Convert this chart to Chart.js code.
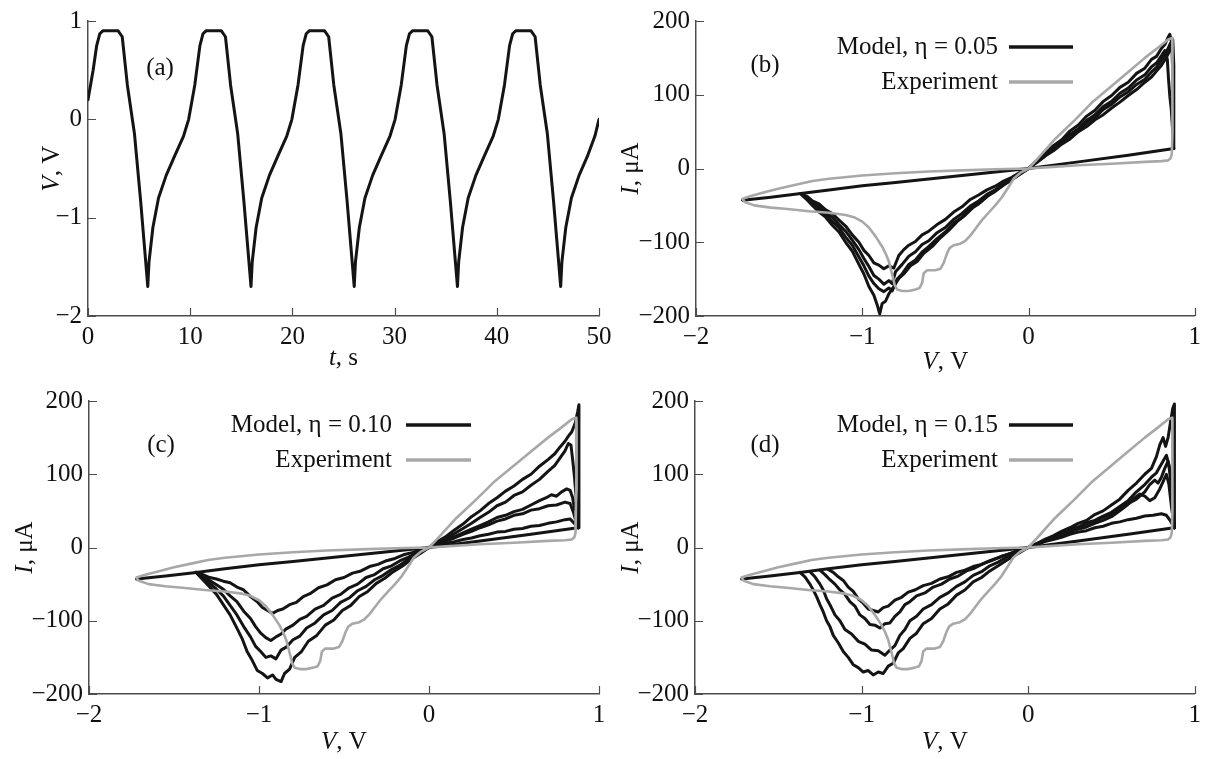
<!DOCTYPE html>
<html>
<head>
<meta charset="utf-8">
<title>V(t) and I–V loops</title>
<script src="https://cdn.jsdelivr.net/npm/chart.js"></script>
<style>
  body { margin: 0; background: #fff; width: 1207px; height: 759px; position: relative; overflow: hidden; }
  canvas { position: absolute; }
</style>
</head>
<body>
<canvas id="chartA" width="625" height="380" style="left:0;top:0"></canvas>
<canvas id="chartB" width="604" height="380" style="left:603px;top:0"></canvas>
<canvas id="chartC" width="625" height="379" style="left:0;top:380px"></canvas>
<canvas id="chartD" width="604" height="379" style="left:603px;top:380px"></canvas>

<script>
// ---- panel (a): V(t) ----
const tA = [0, 0.5, 0.85, 1.15, 1.45, 2.95, 3.35, 3.85, 4.55, 5.15, 5.85,
  5.97, 6.35, 6.9, 7.65, 8.45, 9.35, 9.85, 10.45, 10.95, 11.25, 11.55, 13.05, 13.45, 13.95, 14.65, 15.25, 15.95,
  16.07, 16.45, 17.0, 17.75, 18.55, 19.45, 19.95, 20.55, 21.05, 21.35, 21.65, 23.15, 23.55, 24.05, 24.75, 25.35, 26.05,
  26.17, 26.55, 27.1, 27.85, 28.65, 29.55, 30.05, 30.65, 31.15, 31.45, 31.75, 33.25, 33.65, 34.15, 34.85, 35.45, 36.15,
  36.27, 36.65, 37.2, 37.95, 38.75, 39.65, 40.15, 40.75, 41.25, 41.55, 41.85, 43.35, 43.75, 44.25, 44.95, 45.55, 46.25,
  46.37, 46.75, 47.3, 48.05, 48.85, 49.6, 50.0];
const vA = [0.2, 0.5, 0.75, 0.87, 0.9, 0.9, 0.84, 0.35, -0.15, -0.83, -1.7,
  -1.45, -1.1, -0.8, -0.57, -0.38, -0.17, 0.0, 0.35, 0.75, 0.87, 0.9, 0.9, 0.84, 0.35, -0.15, -0.83, -1.7,
  -1.45, -1.1, -0.8, -0.57, -0.38, -0.17, 0.0, 0.35, 0.75, 0.87, 0.9, 0.9, 0.84, 0.35, -0.15, -0.83, -1.7,
  -1.45, -1.1, -0.8, -0.57, -0.38, -0.17, 0.0, 0.35, 0.75, 0.87, 0.9, 0.9, 0.84, 0.35, -0.15, -0.83, -1.7,
  -1.45, -1.1, -0.8, -0.57, -0.38, -0.17, 0.0, 0.35, 0.75, 0.87, 0.9, 0.9, 0.84, 0.35, -0.15, -0.83, -1.7,
  -1.45, -1.1, -0.8, -0.57, -0.38, -0.17, 0.0];

// ---- I-V loops: [V, I] pairs, V in volts, I in µA ----
const experiment = [[0,0],[0.05,12],[0.16,40],[0.28,66],[0.38,89],[0.5,112],[0.6,131],[0.7,150],[0.78,164],[0.84,175],[0.865,177],
  [0.868,150],[0.866,100],[0.864,50],[0.862,20],[0.855,14],[0.84,11],[0.8,10],[0.7,9],[0.5,6.5],[0.3,4.5],[0.1,1.5],[0,0],
  [-0.2,-1],[-0.4,-2.5],[-0.6,-4],[-0.8,-6.5],[-1.0,-9.5],[-1.2,-14],[-1.3,-17],[-1.4,-22],[-1.5,-27],[-1.6,-33],[-1.68,-38],[-1.72,-41],
  [-1.71,-45],[-1.65,-50],[-1.55,-53],[-1.45,-55],[-1.32,-58],[-1.2,-60],[-1.1,-63],[-1.05,-66],[-1.0,-72],[-0.96,-80],[-0.92,-92],
  [-0.88,-106],[-0.86,-115],[-0.84,-126],[-0.83,-135],[-0.815,-148],[-0.805,-158],[-0.79,-164],[-0.76,-166],[-0.72,-166],[-0.68,-164],
  [-0.655,-162],[-0.64,-155],[-0.63,-142],[-0.61,-138],[-0.56,-138],[-0.53,-136],[-0.51,-128],[-0.49,-115],[-0.475,-108],[-0.45,-104],
  [-0.41,-102],[-0.38,-98],[-0.35,-91],[-0.32,-82],[-0.28,-70],[-0.24,-60],[-0.2,-50],[-0.16,-39],[-0.12,-25],[-0.09,-14],[-0.05,-6],[0,0]];

const offBranch = [[0.875,27],[0.6,18],[0.3,9],[0,0],[-0.4,-9.5],[-0.8,-19],[-1.0,-23.5],[-1.2,-29],[-1.37,-34],[-1.55,-39],[-1.72,-43]];

// eta = 0.05
const bPos1 = [[0,0],[0.05,8],[0.1,17],[0.15,24],[0.2,33],[0.25,40],[0.3,50],[0.35,57],[0.4,66],[0.45,73],[0.5,82],[0.55,90],[0.6,99],[0.65,107],[0.7,117],[0.74,124],[0.77,132],[0.8,140],[0.83,151],[0.85,160],[0.865,166],[0.872,120],[0.872,27]];
const bPos2 = [[0,0],[0.05,10],[0.1,18],[0.15,28],[0.2,36],[0.25,46],[0.3,54],[0.35,65],[0.4,73],[0.45,84],[0.5,91],[0.55,102],[0.6,109],[0.65,120],[0.7,127],[0.74,138],[0.77,143],[0.8,153],[0.82,160],[0.835,148],[0.842,122],[0.85,98],[0.858,82],[0.866,55],[0.872,27]];
const bPos3 = [[0,0],[0.05,11],[0.1,20],[0.15,31],[0.2,39],[0.25,51],[0.3,59],[0.35,71],[0.4,79],[0.45,91],[0.5,99],[0.55,110],[0.6,117],[0.65,129],[0.7,136],[0.74,148],[0.77,152],[0.8,163],[0.82,168],[0.84,178],[0.85,182],[0.862,170],[0.87,110],[0.872,27]];
const bPos4 = [[0,0],[0.05,9],[0.1,17],[0.15,27],[0.2,34],[0.25,45],[0.3,51],[0.35,62],[0.4,69],[0.45,80],[0.5,87],[0.55,97],[0.6,104],[0.65,114],[0.7,121],[0.74,131],[0.77,137],[0.8,147],[0.83,158],[0.85,168],[0.868,175],[0.874,140],[0.874,27]];
const bNeg1 = [[-1.37,-34],[-1.33,-38],[-1.3,-44],[-1.26,-48],[-1.22,-56],[-1.18,-61],[-1.14,-70],[-1.1,-78],[-1.06,-90],[-1.02,-100],[-0.99,-111],[-0.96,-118],[-0.93,-128],[-0.9,-131],[-0.87,-136],[-0.84,-132],[-0.81,-135],[-0.78,-118],[-0.75,-110],[-0.72,-104],[-0.68,-99],[-0.64,-90],[-0.6,-85],[-0.55,-76],[-0.5,-69],[-0.45,-59],[-0.4,-52],[-0.35,-42],[-0.3,-36],[-0.25,-29],[-0.2,-24],[-0.15,-17],[-0.1,-12],[-0.05,-5],[0,0]];
const bNeg2 = [[-1.37,-34],[-1.33,-40],[-1.3,-46],[-1.26,-52],[-1.22,-60],[-1.18,-66],[-1.14,-76],[-1.1,-85],[-1.06,-97],[-1.02,-110],[-0.99,-122],[-0.96,-133],[-0.93,-145],[-0.9,-150],[-0.87,-157],[-0.84,-152],[-0.82,-156],[-0.8,-140],[-0.76,-130],[-0.72,-119],[-0.68,-113],[-0.64,-103],[-0.6,-98],[-0.55,-87],[-0.5,-80],[-0.45,-69],[-0.4,-61],[-0.35,-51],[-0.3,-44],[-0.25,-35],[-0.2,-29],[-0.15,-20],[-0.1,-14],[-0.05,-6],[0,0]];
const bNeg3 = [[-1.37,-34],[-1.33,-42],[-1.3,-48],[-1.26,-56],[-1.22,-62],[-1.18,-72],[-1.14,-80],[-1.1,-93],[-1.06,-104],[-1.02,-120],[-0.99,-132],[-0.96,-146],[-0.93,-156],[-0.9,-163],[-0.87,-167],[-0.84,-162],[-0.82,-166],[-0.79,-150],[-0.76,-143],[-0.72,-130],[-0.68,-124],[-0.64,-113],[-0.6,-106],[-0.55,-95],[-0.5,-86],[-0.45,-74],[-0.4,-66],[-0.35,-55],[-0.3,-48],[-0.25,-38],[-0.2,-31],[-0.15,-22],[-0.1,-15],[-0.05,-7],[0,0]];
const bNeg4 = [[-1.37,-34],[-1.33,-43],[-1.3,-50],[-1.26,-59],[-1.22,-66],[-1.18,-77],[-1.14,-86],[-1.1,-100],[-1.06,-112],[-1.02,-130],[-0.99,-143],[-0.96,-160],[-0.93,-172],[-0.91,-185],[-0.895,-197],[-0.88,-183],[-0.86,-180],[-0.84,-170],[-0.81,-160],[-0.78,-149],[-0.75,-143],[-0.71,-132],[-0.67,-126],[-0.63,-115],[-0.58,-106],[-0.53,-94],[-0.48,-84],[-0.43,-72],[-0.38,-63],[-0.33,-52],[-0.28,-44],[-0.23,-34],[-0.18,-27],[-0.12,-18],[-0.06,-9],[0,0]];

// eta = 0.10
const cPos1 = [[0,0],[0.05,8],[0.1,15],[0.15,24],[0.2,32],[0.25,42],[0.3,50],[0.35,60],[0.4,68],[0.45,77],[0.5,84],[0.55,93],[0.6,100],[0.65,111],[0.7,120],[0.74,128],[0.77,137],[0.8,145],[0.82,152],[0.84,158],[0.86,170],[0.875,186],[0.882,195],[0.882,27]];
const cPos2 = [[0,0],[0.05,6],[0.1,12],[0.15,19],[0.2,26],[0.25,33],[0.3,41],[0.35,48],[0.4,57],[0.45,62],[0.5,71],[0.55,76],[0.6,85],[0.65,93],[0.7,104],[0.74,112],[0.77,122],[0.8,132],[0.82,142],[0.835,140],[0.845,120],[0.855,98],[0.865,70],[0.878,27]];
const cPos3 = [[0,0],[0.05,5],[0.1,10],[0.15,15],[0.2,20],[0.25,25],[0.3,30],[0.35,35],[0.4,41],[0.45,44],[0.5,49],[0.55,52],[0.6,58],[0.65,64],[0.69,68],[0.72,72],[0.75,70],[0.78,76],[0.81,80],[0.83,78],[0.845,68],[0.855,54],[0.865,42],[0.878,27]];
const cPos4 = [[0,0],[0.05,4],[0.1,9],[0.15,13],[0.2,18],[0.25,22],[0.3,27],[0.35,31],[0.4,36],[0.45,39],[0.5,44],[0.55,46],[0.6,51],[0.65,53],[0.7,57],[0.75,58],[0.8,62],[0.83,60],[0.85,48],[0.865,35],[0.878,27]];
const cPos5 = [[0,0],[0.05,3],[0.1,6],[0.15,8],[0.2,11],[0.25,13],[0.3,16],[0.35,18],[0.4,21],[0.45,22],[0.5,25],[0.55,26],[0.6,29],[0.65,30],[0.7,33],[0.75,35],[0.8,38],[0.83,39],[0.85,34],[0.878,27]];
const cNeg1 = [[-1.37,-34],[-1.33,-37],[-1.29,-41],[-1.25,-43],[-1.21,-46],[-1.17,-48],[-1.13,-54],[-1.09,-58],[-1.05,-67],[-1.01,-74],[-0.98,-82],[-0.95,-86],[-0.92,-90],[-0.89,-86],[-0.86,-84],[-0.82,-78],[-0.78,-75],[-0.74,-67],[-0.7,-63],[-0.65,-55],[-0.6,-51],[-0.55,-44],[-0.5,-41],[-0.45,-35],[-0.4,-32],[-0.35,-26],[-0.3,-23],[-0.25,-18],[-0.2,-15],[-0.15,-10],[-0.1,-7],[-0.05,-3],[0,0]];
const cNeg2 = [[-1.37,-34],[-1.33,-40],[-1.29,-45],[-1.25,-51],[-1.21,-57],[-1.17,-66],[-1.13,-74],[-1.09,-87],[-1.05,-97],[-1.02,-108],[-0.99,-117],[-0.96,-123],[-0.93,-127],[-0.9,-122],[-0.87,-118],[-0.84,-111],[-0.8,-106],[-0.76,-98],[-0.72,-94],[-0.67,-84],[-0.62,-79],[-0.57,-69],[-0.52,-64],[-0.47,-55],[-0.42,-50],[-0.37,-41],[-0.32,-37],[-0.27,-29],[-0.22,-25],[-0.17,-18],[-0.12,-13],[-0.06,-6],[0,0]];
const cNeg3 = [[-1.37,-34],[-1.33,-42],[-1.29,-49],[-1.25,-57],[-1.21,-66],[-1.17,-79],[-1.13,-92],[-1.09,-108],[-1.05,-122],[-1.02,-135],[-0.99,-142],[-0.96,-150],[-0.93,-148],[-0.9,-152],[-0.87,-140],[-0.84,-136],[-0.8,-126],[-0.76,-121],[-0.72,-110],[-0.67,-103],[-0.62,-92],[-0.57,-86],[-0.52,-75],[-0.47,-69],[-0.42,-59],[-0.37,-53],[-0.32,-44],[-0.27,-38],[-0.22,-30],[-0.17,-24],[-0.12,-16],[-0.06,-8],[0,0]];
const cNeg4 = [[-1.37,-34],[-1.33,-44],[-1.29,-54],[-1.25,-64],[-1.21,-78],[-1.17,-92],[-1.13,-110],[-1.1,-124],[-1.07,-142],[-1.04,-154],[-1.01,-168],[-0.98,-172],[-0.95,-178],[-0.92,-174],[-0.9,-180],[-0.87,-183],[-0.85,-172],[-0.82,-166],[-0.79,-150],[-0.75,-142],[-0.71,-128],[-0.66,-120],[-0.61,-106],[-0.56,-99],[-0.51,-86],[-0.46,-79],[-0.41,-67],[-0.36,-60],[-0.31,-49],[-0.26,-42],[-0.21,-33],[-0.16,-26],[-0.11,-17],[-0.05,-8],[0,0]];

// eta = 0.15
const dPos1 = [[0,0],[0.05,5],[0.1,11],[0.15,16],[0.2,22],[0.25,27],[0.3,33],[0.35,37],[0.4,45],[0.45,50],[0.5,58],[0.55,66],[0.6,78],[0.65,88],[0.7,100],[0.74,108],[0.77,124],[0.79,140],[0.81,150],[0.825,138],[0.84,150],[0.855,172],[0.868,190],[0.878,196],[0.878,27]];
const dPos2 = [[0,0],[0.05,5],[0.1,10],[0.15,15],[0.2,19],[0.25,25],[0.3,28],[0.35,34],[0.4,37],[0.45,43],[0.5,48],[0.55,56],[0.6,64],[0.65,76],[0.7,86],[0.74,96],[0.77,102],[0.8,114],[0.83,126],[0.845,112],[0.855,92],[0.865,62],[0.878,27]];
const dPos3 = [[0,0],[0.05,4],[0.1,9],[0.15,13],[0.2,17],[0.25,21],[0.3,25],[0.35,28],[0.4,33],[0.45,37],[0.5,42],[0.55,50],[0.6,59],[0.64,68],[0.67,73],[0.7,70],[0.73,64],[0.76,68],[0.79,80],[0.81,90],[0.83,100],[0.845,86],[0.86,56],[0.878,27]];
const dPos4 = [[0,0],[0.05,4],[0.1,8],[0.15,11],[0.2,14],[0.25,18],[0.3,21],[0.35,23],[0.4,27],[0.45,29],[0.5,33],[0.55,35],[0.6,38],[0.65,40],[0.7,43],[0.75,44],[0.8,46],[0.83,44],[0.855,36],[0.878,27]];
const dPos5 = [[0,0],[0.05,5],[0.1,9],[0.15,14],[0.2,18],[0.25,23],[0.3,27],[0.35,32],[0.4,36],[0.45,41],[0.5,46],[0.55,53],[0.6,60],[0.65,66],[0.7,76],[0.73,86],[0.76,92],[0.78,88],[0.8,96],[0.82,108],[0.84,118],[0.855,100],[0.868,60],[0.878,27]];
const dNeg1 = [[-1.37,-34],[-1.34,-40],[-1.31,-50],[-1.29,-58],[-1.27,-67],[-1.25,-78],[-1.23,-88],[-1.21,-100],[-1.19,-108],[-1.17,-120],[-1.14,-130],[-1.11,-142],[-1.08,-150],[-1.05,-160],[-1.02,-164],[-0.99,-170],[-0.96,-168],[-0.93,-174],[-0.9,-170],[-0.87,-172],[-0.84,-162],[-0.81,-158],[-0.78,-144],[-0.75,-138],[-0.71,-124],[-0.67,-117],[-0.63,-104],[-0.58,-97],[-0.53,-84],[-0.48,-77],[-0.43,-65],[-0.38,-58],[-0.33,-47],[-0.28,-41],[-0.23,-32],[-0.18,-25],[-0.12,-16],[-0.06,-8],[0,0]];
const dNeg2 = [[-1.31,-33],[-1.28,-40],[-1.25,-50],[-1.23,-58],[-1.21,-70],[-1.19,-78],[-1.16,-92],[-1.13,-100],[-1.1,-112],[-1.06,-118],[-1.02,-128],[-0.98,-132],[-0.94,-140],[-0.9,-141],[-0.86,-147],[-0.83,-140],[-0.8,-134],[-0.77,-120],[-0.74,-112],[-0.71,-100],[-0.67,-94],[-0.63,-84],[-0.58,-78],[-0.53,-68],[-0.48,-62],[-0.43,-53],[-0.38,-47],[-0.33,-38],[-0.28,-33],[-0.23,-25],[-0.18,-20],[-0.12,-12],[-0.06,-6],[0,0]];
const dNeg3 = [[-1.25,-31],[-1.22,-37],[-1.19,-44],[-1.16,-50],[-1.13,-58],[-1.1,-64],[-1.07,-74],[-1.04,-80],[-1.01,-92],[-0.98,-97],[-0.95,-105],[-0.92,-106],[-0.89,-110],[-0.86,-104],[-0.83,-103],[-0.8,-94],[-0.77,-88],[-0.74,-78],[-0.71,-74],[-0.67,-66],[-0.62,-62],[-0.57,-54],[-0.52,-50],[-0.47,-43],[-0.42,-39],[-0.37,-32],[-0.32,-28],[-0.27,-22],[-0.22,-18],[-0.16,-12],[-0.1,-8],[-0.05,-3],[0,0]];
const dNeg4 = [[-1.2,-30],[-1.17,-34],[-1.14,-40],[-1.11,-45],[-1.08,-54],[-1.05,-60],[-1.02,-70],[-0.99,-76],[-0.96,-84],[-0.93,-86],[-0.9,-88],[-0.87,-82],[-0.84,-80],[-0.8,-72],[-0.76,-68],[-0.72,-61],[-0.68,-58],[-0.63,-52],[-0.58,-49],[-0.53,-43],[-0.48,-40],[-0.43,-34],[-0.38,-31],[-0.33,-26],[-0.28,-23],[-0.23,-18],[-0.18,-14],[-0.12,-9],[-0.06,-4],[0,0]];

const BLACK = '#141414', GRAY = '#a8a8a8', AXIS = '#4d4d4d';
const SERIF = '"Liberation Serif", "Times New Roman", serif';
Chart.defaults.font.family = SERIF;

function line(points, color, width, label) {
  return { label: label, data: points.map(p => ({ x: p[0], y: p[1] })), showLine: true,
           borderColor: color, borderWidth: width, pointRadius: 0, tension: 0, fill: false,
           borderJoinStyle: 'round', borderCapStyle: 'round' };
}

function minusFmt(v) { return v < 0 ? '\u2212' + Math.abs(v) : String(v); }

// inward ticks, axis titles with italic symbol, panel letter, legend
function frame(cfg) {
  return {
    id: 'frame',
    afterDraw(chart) {
      const c = chart.ctx, a = chart.chartArea;
      const xs = chart.scales.x, ys = chart.scales.y;
      c.save();
      c.strokeStyle = AXIS; c.lineWidth = 1.2;
      c.beginPath();
      xs.ticks.forEach(t => { const p = Math.round(xs.getPixelForValue(t.value)) + 0.5; c.moveTo(p, a.bottom); c.lineTo(p, a.bottom - 8); });
      ys.ticks.forEach(t => { const p = Math.round(ys.getPixelForValue(t.value)) + 0.5; c.moveTo(a.left, p); c.lineTo(a.left + 8, p); });
      c.stroke();

      c.fillStyle = '#111';
      c.textBaseline = 'middle';
      const it = 'italic 25px ' + SERIF, rm = '25px ' + SERIF;
      function mixed(parts, x, y) {
        let w = 0;
        parts.forEach(p => { c.font = p[1]; w += c.measureText(p[0]).width; });
        let cx = x - w / 2;
        c.textAlign = 'left';
        parts.forEach(p => { c.font = p[1]; c.fillText(p[0], cx, y); cx += c.measureText(p[0]).width; });
      }
      mixed([[cfg.xSym, it], [cfg.xUnit, rm]], (a.left + a.right) / 2, cfg.xTitleY);
      c.save();
      c.translate(cfg.yTitleX, (a.top + a.bottom) / 2);
      c.rotate(-Math.PI / 2);
      mixed([[cfg.ySym, it], [cfg.yUnit, rm]], 0, 0);
      c.restore();

      c.font = rm; c.textAlign = 'center';
      c.fillText(cfg.tag, cfg.tagX, cfg.tagY);

      if (cfg.legend) {
        const L = cfg.legend;
        L.items.forEach((idx, k) => {
          const ds = chart.data.datasets[idx];
          const y = L.y + k * L.gap;
          c.font = rm; c.textAlign = 'right';
          c.fillText(ds.label, L.textRight, y);
          c.strokeStyle = ds.borderColor; c.lineWidth = 3.5;
          c.beginPath(); c.moveTo(L.x1, y); c.lineTo(L.x2, y); c.stroke();
        });
      }
      c.restore();
    }
  };
}

function makeChart(id, datasets, sc, lay, cfg) {
  return new Chart(document.getElementById(id), {
    type: 'scatter',
    data: { datasets: datasets },
    options: {
      responsive: false, animation: false,
      layout: { padding: { top: lay.top, right: lay.right, left: 0, bottom: 0 } },
      plugins: { legend: { display: false }, tooltip: { enabled: false } },
      scales: {
        x: { type: 'linear', min: sc.xmin, max: sc.xmax,
             grid: { display: false, drawTicks: false },
             border: { display: true, color: AXIS, width: 1.5 },
             ticks: { stepSize: sc.xstep, color: '#111', font: { size: 25 }, padding: 6, callback: minusFmt, maxRotation: 0 },
             afterFit: s => { s.height = lay.xh; } },
        y: { type: 'linear', min: sc.ymin, max: sc.ymax,
             grid: { display: false, drawTicks: false },
             border: { display: true, color: AXIS, width: 1.5 },
             ticks: { stepSize: sc.ystep, color: '#111', font: { size: 25 }, padding: 6, callback: minusFmt },
             afterFit: s => { s.width = lay.yw; } }
      }
    },
    plugins: [frame(cfg)]
  });
}

const ivScale = { xmin: -2, xmax: 1, xstep: 1, ymin: -200, ymax: 200, ystep: 100 };

function ivSets(label, pos, neg) {
  const sets = [line(experiment, GRAY, 2.6, 'Experiment'), line(offBranch, BLACK, 3, label)];
  pos.forEach(p => sets.push(line(p, BLACK, 3)));
  neg.forEach(n => sets.push(line(n, BLACK, 3)));
  return sets;
}

makeChart('chartA', [line(tA.map((t, i) => [t, vA[i]]), BLACK, 3)],
  { xmin: 0, xmax: 50, xstep: 10, ymin: -2, ymax: 1, ystep: 1 },
  { top: 19, right: 26, xh: 64, yw: 88 },
  { xSym: 't', xUnit: ', s', ySym: 'V', yUnit: ', V', xTitleY: 358, yTitleX: 52, tag: '(a)', tagX: 160, tagY: 68 });

makeChart('chartB', ivSets('Model, \u03b7 = 0.05', [bPos1, bPos2, bPos3, bPos4], [bNeg1, bNeg2, bNeg3, bNeg4]),
  ivScale, { top: 19, right: 7, xh: 64, yw: 93 },
  { xSym: 'V', xUnit: ', V', ySym: 'I', yUnit: ', \u03bcA', xTitleY: 362, yTitleX: 28, tag: '(b)', tagX: 162, tagY: 65,
    legend: { items: [1, 0], y: 47, gap: 35, textRight: 395, x1: 406, x2: 470 } });

makeChart('chartC', ivSets('Model, \u03b7 = 0.10', [cPos1, cPos2, cPos3, cPos4, cPos5], [cNeg1, cNeg2, cNeg3, cNeg4]),
  ivScale, { top: 17, right: 26, xh: 65, yw: 89 },
  { xSym: 'V', xUnit: ', V', ySym: 'I', yUnit: ', \u03bcA', xTitleY: 362, yTitleX: 25, tag: '(c)', tagX: 161, tagY: 65,
    legend: { items: [1, 0], y: 45, gap: 35, textRight: 392, x1: 406, x2: 471 } });

makeChart('chartD', ivSets('Model, \u03b7 = 0.15', [dPos1, dPos2, dPos3, dPos4, dPos5], [dNeg1, dNeg2, dNeg3, dNeg4]),
  ivScale, { top: 17, right: 7, xh: 65, yw: 92 },
  { xSym: 'V', xUnit: ', V', ySym: 'I', yUnit: ', \u03bcA', xTitleY: 362, yTitleX: 28, tag: '(d)', tagX: 162, tagY: 65,
    legend: { items: [1, 0], y: 45, gap: 35, textRight: 395, x1: 406, x2: 470 } });
</script>
</body>
</html>
